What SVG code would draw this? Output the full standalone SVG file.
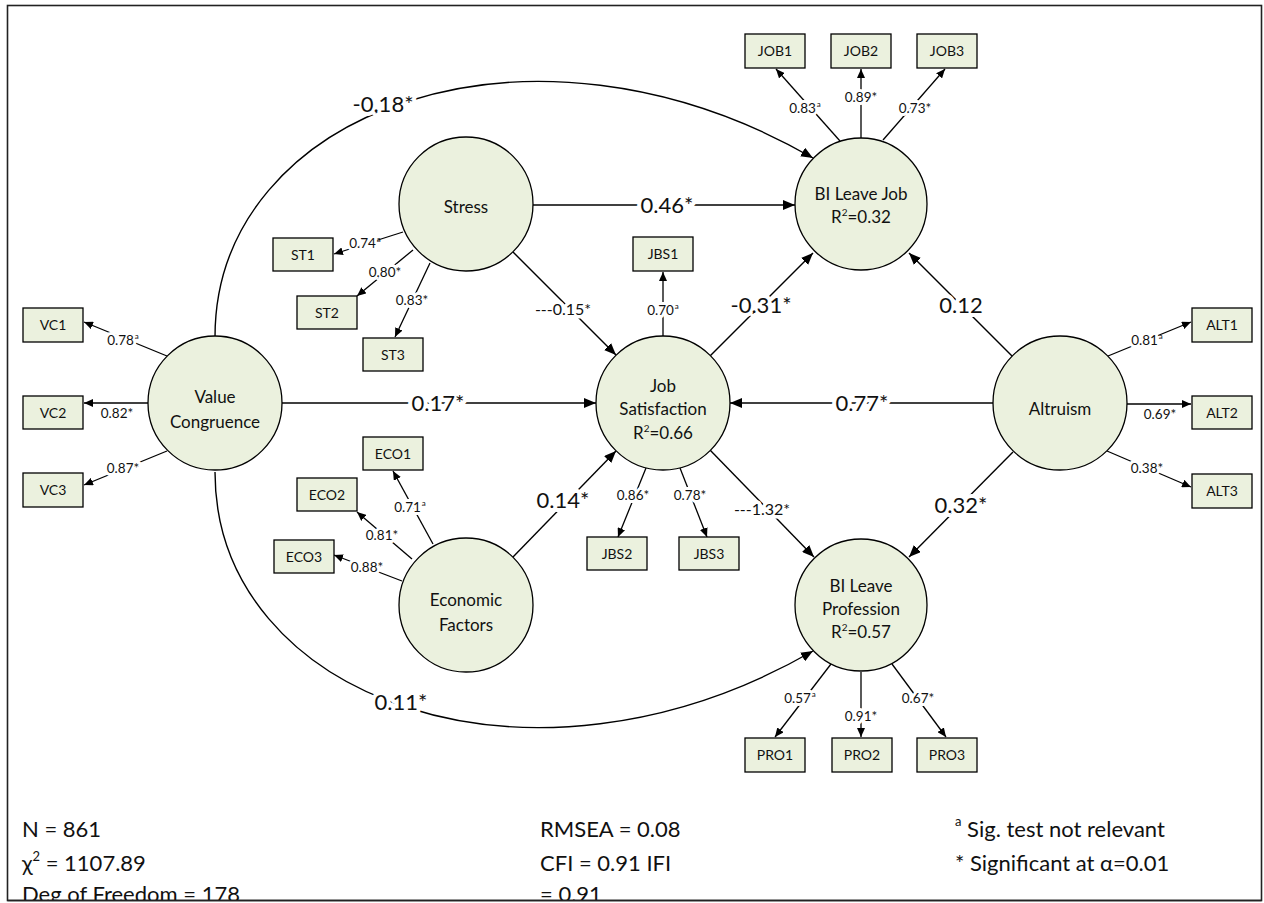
<svg xmlns="http://www.w3.org/2000/svg" width="1264" height="903" viewBox="0 0 1264 903">
<defs>
<marker id="big" markerUnits="userSpaceOnUse" markerWidth="12" markerHeight="10" refX="12" refY="5" orient="auto"><path d="M0,0 L12,5 L0,10 z" fill="#000"/></marker>
<marker id="sm" markerUnits="userSpaceOnUse" markerWidth="9" markerHeight="8" refX="9" refY="4" orient="auto"><path d="M0,0 L9,4 L0,8 z" fill="#000"/></marker>
<clipPath id="frame"><rect x="0" y="0" width="1264" height="900"/></clipPath>
</defs>
<style>
text{font-family:Lato,"Noto Sans","Liberation Sans",sans-serif;fill:#111}
.c{fill:#EBF1DE;stroke:#000;stroke-width:1.3}
.b{fill:#EBF1DE;stroke:#000;stroke-width:1.3}
.ct{font-size:17px;text-anchor:middle}
.bt{font-size:14px;text-anchor:middle}
.ln{stroke:#000;stroke-width:1.3;fill:none}
.lb{stroke:#000;stroke-width:1.4;fill:none}
.ld{font-size:13.5px;text-anchor:middle;paint-order:stroke;stroke:#fff;stroke-width:6px;stroke-linejoin:round}
.bg{font-size:22px;text-anchor:middle;paint-order:stroke;stroke:#fff;stroke-width:8px;stroke-linejoin:round}
.ds{font-size:16px;text-anchor:middle;paint-order:stroke;stroke:#fff;stroke-width:7px;stroke-linejoin:round}
.ft{font-size:22px}
.sup{font-size:8px;stroke-width:0}
</style>
<rect x="7.5" y="5.5" width="1254" height="895" fill="#fff" stroke="#222" stroke-width="1.6"/>

<g id="connectors">
<path class="lb" marker-end="url(#big)" d="M215,337 C215,110 530,-5 813,158"/>
<path class="lb" marker-end="url(#big)" d="M215,472 C215,699 530,814 813,651"/>
<line class="lb" marker-end="url(#big)" x1="533" y1="205" x2="795" y2="205"/>
<line class="lb" marker-end="url(#big)" x1="282" y1="403" x2="596" y2="403"/>
<line class="lb" marker-end="url(#big)" x1="993" y1="403" x2="730" y2="403"/>
<line class="lb" marker-end="url(#big)" x1="513" y1="252" x2="616" y2="355"/>
<line class="lb" marker-end="url(#big)" x1="513" y1="557" x2="616" y2="451"/>
<line class="lb" marker-end="url(#big)" x1="710" y1="356" x2="813" y2="253"/>
<line class="lb" marker-end="url(#big)" x1="1013" y1="357" x2="909" y2="253"/>
<line class="lb" marker-end="url(#big)" x1="710" y1="450" x2="814" y2="557"/>
<line class="lb" marker-end="url(#big)" x1="1013" y1="452" x2="909" y2="557"/>

<text class="bg" x="383" y="112">-0.18*</text>
<text class="bg" x="401" y="710">0.11*</text>
<text class="bg" x="667" y="213">0.46*</text>
<text class="bg" x="438" y="411">0.17*</text>
<text class="bg" x="862" y="411">0.77*</text>
<text class="ds" x="563" y="315">---0.15*</text>
<text class="bg" x="563" y="508">0.14*</text>
<text class="bg" x="761" y="313">-0.31*</text>
<text class="bg" x="961" y="313">0.12</text>
<text class="ds" x="762" y="515">---1.32*</text>
<text class="bg" x="961" y="513">0.32*</text>

<line class="ln" marker-end="url(#sm)" x1="840" y1="141" x2="776" y2="69"/>
<line class="ln" marker-end="url(#sm)" x1="861" y1="138" x2="861" y2="69"/>
<line class="ln" marker-end="url(#sm)" x1="883" y1="140" x2="945" y2="69"/>
<text class="ld" x="805" y="113">0.83<tspan class="sup" dx="1" dy="-6">a</tspan></text>
<text class="ld" x="861" y="102">0.89*</text>
<text class="ld" x="915" y="113">0.73*</text>

<line class="ln" marker-end="url(#sm)" x1="403" y1="232" x2="334" y2="254"/>
<line class="ln" marker-end="url(#sm)" x1="413" y1="250" x2="357" y2="296"/>
<line class="ln" marker-end="url(#sm)" x1="430" y1="263" x2="395" y2="337"/>
<text class="ld" x="365" y="248">0.74<tspan class="sup" dx="1" dy="-6">a</tspan></text>
<text class="ld" x="385" y="277">0.80*</text>
<text class="ld" x="412" y="305">0.83*</text>

<line class="ln" marker-end="url(#sm)" x1="433" y1="544" x2="393" y2="471"/>
<line class="ln" marker-end="url(#sm)" x1="412" y1="559" x2="357" y2="512"/>
<line class="ln" marker-end="url(#sm)" x1="402" y1="581" x2="334" y2="555"/>
<text class="ld" x="410" y="512">0.71<tspan class="sup" dx="1" dy="-6">a</tspan></text>
<text class="ld" x="382" y="540">0.81*</text>
<text class="ld" x="367" y="572">0.88*</text>

<line class="ln" marker-end="url(#sm)" x1="167" y1="356" x2="84" y2="322"/>
<line class="ln" marker-end="url(#sm)" x1="148" y1="403" x2="84" y2="403"/>
<line class="ln" marker-end="url(#sm)" x1="167" y1="451" x2="84" y2="485"/>
<text class="ld" x="123" y="345">0.78<tspan class="sup" dx="1" dy="-6">a</tspan></text>
<text class="ld" x="117" y="418">0.82*</text>
<text class="ld" x="123" y="473">0.87*</text>

<line class="ln" marker-end="url(#sm)" x1="1108" y1="356" x2="1191" y2="322"/>
<line class="ln" marker-end="url(#sm)" x1="1127" y1="404" x2="1191" y2="404"/>
<line class="ln" marker-end="url(#sm)" x1="1107" y1="451" x2="1191" y2="487"/>
<text class="ld" x="1147" y="345">0.81<tspan class="sup" dx="1" dy="-6">a</tspan></text>
<text class="ld" x="1160" y="419">0.69*</text>
<text class="ld" x="1147" y="473">0.38*</text>

<line class="ln" marker-end="url(#sm)" x1="663" y1="336" x2="663" y2="272"/>
<line class="ln" marker-end="url(#sm)" x1="646" y1="468" x2="618" y2="537"/>
<line class="ln" marker-end="url(#sm)" x1="680" y1="468" x2="707" y2="537"/>
<text class="ld" x="663" y="315">0.70<tspan class="sup" dx="1" dy="-6">a</tspan></text>
<text class="ld" x="633" y="500">0.86*</text>
<text class="ld" x="690" y="500">0.78*</text>

<line class="ln" marker-end="url(#sm)" x1="831" y1="664" x2="775" y2="737"/>
<line class="ln" marker-end="url(#sm)" x1="861" y1="672" x2="861" y2="737"/>
<line class="ln" marker-end="url(#sm)" x1="892" y1="664" x2="946" y2="737"/>
<text class="ld" x="800" y="703">0.57<tspan class="sup" dx="1" dy="-6">a</tspan></text>
<text class="ld" x="861" y="721">0.91*</text>
<text class="ld" x="918" y="703">0.67*</text>
</g>

<g id="stress"><circle class="c" cx="466" cy="204" r="67"/><text class="ct" x="466" y="213">Stress</text></g>
<g id="bi-leave-job"><circle class="c" cx="861" cy="204" r="66"/><text class="ct" x="861" y="200">BI Leave Job</text><text class="ct" x="861" y="223">R<tspan font-size="10" dy="-7">2</tspan><tspan dy="7">=0.32</tspan></text></g>
<g id="value-congruence"><circle class="c" cx="215" cy="403" r="67"/><text class="ct" x="215" y="403">Value</text><text class="ct" x="215" y="428">Congruence</text></g>
<g id="job-satisfaction"><circle class="c" cx="663" cy="403" r="67"/><text class="ct" x="663" y="392">Job</text><text class="ct" x="663" y="415">Satisfaction</text><text class="ct" x="663" y="439">R<tspan font-size="10" dy="-7">2</tspan><tspan dy="7">=0.66</tspan></text></g>
<g id="altruism"><circle class="c" cx="1060" cy="403" r="67"/><text class="ct" x="1060" y="415">Altruism</text></g>
<g id="economic-factors"><circle class="c" cx="466" cy="605" r="67"/><text class="ct" x="466" y="606">Economic</text><text class="ct" x="466" y="631">Factors</text></g>
<g id="bi-leave-profession"><circle class="c" cx="861" cy="605" r="66"/><text class="ct" x="861" y="592">BI Leave</text><text class="ct" x="861" y="615">Profession</text><text class="ct" x="861" y="638">R<tspan font-size="10" dy="-7">2</tspan><tspan dy="7">=0.57</tspan></text></g>

<g id="job1"><rect class="b" x="745" y="34" width="60" height="34"/><text class="bt" x="775" y="56">JOB1</text></g>
<g id="job2"><rect class="b" x="831" y="34" width="60" height="34"/><text class="bt" x="861" y="56">JOB2</text></g>
<g id="job3"><rect class="b" x="917" y="34" width="60" height="34"/><text class="bt" x="947" y="56">JOB3</text></g>
<g id="st1"><rect class="b" x="273" y="238" width="60" height="33"/><text class="bt" x="303" y="260">ST1</text></g>
<g id="st2"><rect class="b" x="297" y="296" width="60" height="33"/><text class="bt" x="327" y="318">ST2</text></g>
<g id="st3"><rect class="b" x="363" y="338" width="60" height="33"/><text class="bt" x="393" y="360">ST3</text></g>
<g id="vc1"><rect class="b" x="23" y="308" width="60" height="34"/><text class="bt" x="53" y="330">VC1</text></g>
<g id="vc2"><rect class="b" x="23" y="396" width="60" height="33"/><text class="bt" x="53" y="418">VC2</text></g>
<g id="vc3"><rect class="b" x="23" y="473" width="60" height="34"/><text class="bt" x="53" y="495">VC3</text></g>
<g id="jbs1"><rect class="b" x="633" y="237" width="60" height="34"/><text class="bt" x="663" y="259">JBS1</text></g>
<g id="jbs2"><rect class="b" x="587" y="537" width="60" height="33"/><text class="bt" x="617" y="559">JBS2</text></g>
<g id="jbs3"><rect class="b" x="679" y="537" width="60" height="33"/><text class="bt" x="709" y="559">JBS3</text></g>
<g id="eco1"><rect class="b" x="363" y="437" width="60" height="33"/><text class="bt" x="393" y="459">ECO1</text></g>
<g id="eco2"><rect class="b" x="297" y="478" width="60" height="33"/><text class="bt" x="327" y="500">ECO2</text></g>
<g id="eco3"><rect class="b" x="274" y="540" width="60" height="33"/><text class="bt" x="304" y="562">ECO3</text></g>
<g id="alt1"><rect class="b" x="1192" y="308" width="60" height="34"/><text class="bt" x="1222" y="330">ALT1</text></g>
<g id="alt2"><rect class="b" x="1192" y="396" width="60" height="33"/><text class="bt" x="1222" y="418">ALT2</text></g>
<g id="alt3"><rect class="b" x="1192" y="474" width="60" height="34"/><text class="bt" x="1222" y="496">ALT3</text></g>
<g id="pro1"><rect class="b" x="745" y="738" width="60" height="34"/><text class="bt" x="775" y="760">PRO1</text></g>
<g id="pro2"><rect class="b" x="832" y="738" width="60" height="34"/><text class="bt" x="862" y="760">PRO2</text></g>
<g id="pro3"><rect class="b" x="917" y="738" width="60" height="34"/><text class="bt" x="947" y="760">PRO3</text></g>

<g id="footer" clip-path="url(#frame)">
<text class="ft" x="22" y="837">N = 861</text>
<text class="ft" x="22" y="871">χ<tspan font-size="13" dy="-10">2</tspan><tspan dy="10"> = 1107.89</tspan></text>
<text class="ft" x="22" y="902">Deg of Freedom = 178</text>
<text class="ft" x="540" y="837">RMSEA = 0.08</text>
<text class="ft" x="540" y="871">CFI = 0.91 IFI</text>
<text class="ft" x="540" y="902">= 0.91</text>
<text class="ft" x="955" y="837"><tspan font-size="13" dy="-11">a</tspan><tspan dy="11"> Sig. test not relevant</tspan></text>
<text class="ft" x="955" y="871">* Significant at α=0.01</text>
</g>
<line x1="7.5" y1="900.5" x2="1261.5" y2="900.5" stroke="#222" stroke-width="1.6"/>
</svg>
